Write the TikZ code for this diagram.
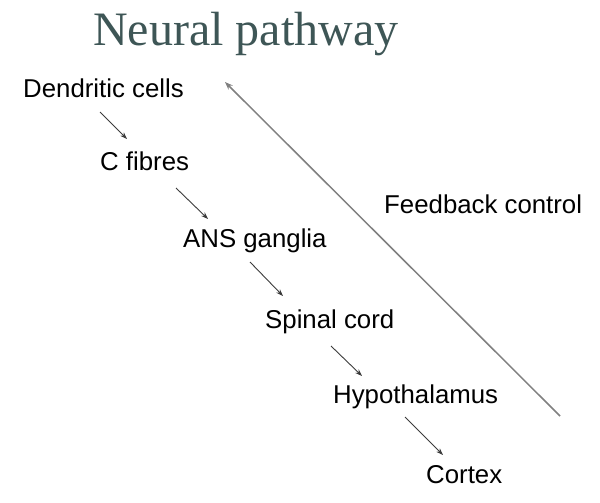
\documentclass[tikz,border=0pt]{standalone}
\usepackage{fontspec}
\setmainfont{Liberation Sans}
\newfontfamily\titlefont{Liberation Serif}
\usetikzlibrary{arrows.meta}
\definecolor{titlecol}{RGB}{62,86,86}
\definecolor{longcol}{RGB}{128,128,128}
\definecolor{shortcol}{RGB}{60,60,60}
\tikzset{
  lbl/.style={anchor=base west, inner sep=0pt, font=\fontsize{25.8}{30}\selectfont, text=black},
  stepline/.style={draw=shortcol, line width=0.9pt, -{Stealth[length=7pt,width=5pt,fill=black]}},
  fbline/.style={draw=longcol, line width=1.5pt, -{Stealth[length=8pt,width=6pt,fill=black]}}
}
\begin{document}
\begin{tikzpicture}[x=1pt,y=-1pt]
\useasboundingbox[fill=white] (0,0) rectangle (600,503);
\node[anchor=base west, inner sep=0pt, font=\titlefont\fontsize{48}{56}\selectfont, text=titlecol] (title) at (93,46) {Neural pathway};
\node[lbl] (dc) at (23,97) {Dendritic cells};
\node[lbl] (cf) at (100,170) {C fibres};
\node[lbl] (ans) at (183,247) {ANS ganglia};
\node[lbl] (sc) at (265,328) {Spinal cord};
\node[lbl] (hy) at (333,403) {Hypothalamus};
\node[lbl] (cx) at (426,483) {Cortex};
\node[lbl] (fb) at (384,213) {Feedback control};
\coordinate (a1s) at (100,112); \coordinate (a1e) at (127,139);
\coordinate (a2s) at (176,188); \coordinate (a2e) at (208,219);
\coordinate (a3s) at (250,262); \coordinate (a3e) at (283,296);
\coordinate (a4s) at (331,346); \coordinate (a4e) at (362,376);
\coordinate (a5s) at (405,417); \coordinate (a5e) at (443,455);
\coordinate (fbs) at (560,416); \coordinate (fbe) at (225,82);
\draw[stepline] (a1s) -- (a1e);
\draw[stepline] (a2s) -- (a2e);
\draw[stepline] (a3s) -- (a3e);
\draw[stepline] (a4s) -- (a4e);
\draw[stepline] (a5s) -- (a5e);
\draw[fbline] (fbs) -- (fbe);
\end{tikzpicture}
\end{document}
